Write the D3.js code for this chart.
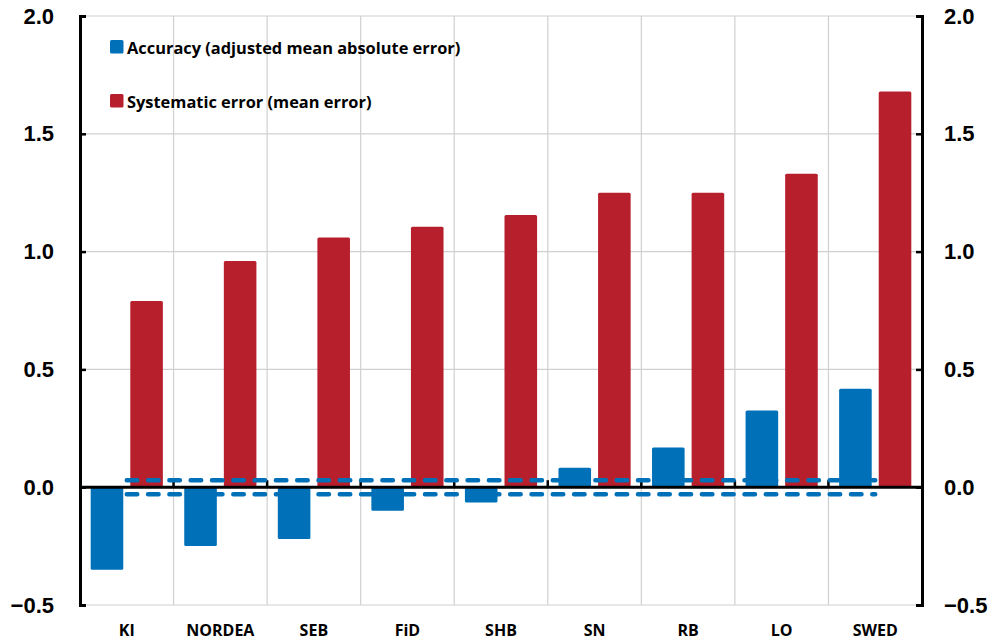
<!DOCTYPE html>
<html>
<head>
<meta charset="utf-8">
<script src="https://cdn.jsdelivr.net/npm/d3@7/dist/d3.min.js"></script>
<style>
  html, body { margin: 0; padding: 0; background: #fff; }
  svg { display: block; font-family: "Open Sans", "Noto Sans", sans-serif; }
</style>
</head>
<body>
<svg id="chart" width="995" height="641"></svg>
<script>
// Forecasters, ordered by systematic error
const categories = ["KI", "NORDEA", "SEB", "FiD", "SHB", "SN", "RB", "LO", "SWED"];
const accuracy   = [-0.35, -0.25, -0.22, -0.10, -0.065, 0.083, 0.168, 0.326, 0.418];
const systematic = [0.79, 0.96, 1.06, 1.105, 1.155, 1.25, 1.25, 1.33, 1.68];
const bandLimit  = [0.03, -0.03];   // dashed reference band around zero
const yTicks     = [-0.5, 0.0, 0.5, 1.0, 1.5, 2.0];
const seriesNames = ["Accuracy (adjusted mean absolute error)", "Systematic error (mean error)"];
const seriesColors = ["#0070b8", "#b81f2d"];

const svg = d3.select("#chart");
const plot = { left: 80, right: 922, top: 16, bottom: 605 };

const x = d3.scaleBand().domain(categories).range([plot.left, plot.right]).paddingInner(0).paddingOuter(0);
const y = d3.scaleLinear().domain([-0.5, 2.0]).range([plot.bottom, plot.top]);
const bw = x.bandwidth();
const inner = d3.scaleBand().domain([0, 1]).range([0, bw]).paddingInner(0.177).paddingOuter(0.27);

// Gridlines
const grid = svg.append("g");
grid.selectAll("line.h").data(yTicks.filter(d => d !== 0)).join("line")
  .attr("x1", plot.left).attr("x2", plot.right)
  .attr("y1", d => y(d)).attr("y2", d => y(d))
  .attr("stroke", "#d0d0d0").attr("stroke-width", 1.2);
grid.selectAll("line.v").data(categories.slice(1)).join("line")
  .attr("x1", d => x(d)).attr("x2", d => x(d))
  .attr("y1", plot.top).attr("y2", plot.bottom)
  .attr("stroke", "#d0d0d0").attr("stroke-width", 1.2);

// Bars
const bars = svg.append("g");
bars.selectAll("rect.acc").data(categories).join("rect")
  .attr("x", d => x(d) + inner(0))
  .attr("width", inner.bandwidth())
  .attr("y", (d, i) => y(Math.max(0, accuracy[i])))
  .attr("height", (d, i) => Math.abs(y(accuracy[i]) - y(0)))
  .attr("rx", 1.5)
  .attr("fill", seriesColors[0]);
bars.selectAll("rect.sys").data(categories).join("rect")
  .attr("x", d => x(d) + inner(1))
  .attr("width", inner.bandwidth())
  .attr("y", (d, i) => y(Math.max(0, systematic[i])))
  .attr("height", (d, i) => Math.abs(y(systematic[i]) - y(0)))
  .attr("rx", 1.5)
  .attr("fill", seriesColors[1]);

// Zero line with category ticks
svg.append("line")
  .attr("x1", plot.left).attr("x2", plot.right)
  .attr("y1", y(0)).attr("y2", y(0))
  .attr("stroke", "#000").attr("stroke-width", 3);
svg.append("g").selectAll("line").data(categories.slice(1)).join("line")
  .attr("x1", d => x(d)).attr("x2", d => x(d))
  .attr("y1", y(0)).attr("y2", y(0) - 7)
  .attr("stroke", "#000").attr("stroke-width", 2.5);

// Dashed band limits
const xMid = d => x(d) + bw / 2;
svg.append("g").selectAll("line").data(bandLimit).join("line")
  .attr("x1", xMid(categories[0])).attr("x2", xMid(categories[categories.length - 1]))
  .attr("y1", d => y(d)).attr("y2", d => y(d))
  .attr("stroke", seriesColors[0]).attr("stroke-width", 4.5)
  .attr("stroke-linecap", "round")
  .attr("stroke-dasharray", "10.5,10.8");

// Value axes on both sides
const fmt = d3.format(".1f");
const leftAxis = d3.axisLeft(y).tickValues(yTicks).tickFormat(fmt).tickSizeInner(-6).tickSizeOuter(-6).tickPadding(26);
const rightAxis = d3.axisRight(y).tickValues(yTicks).tickFormat(fmt).tickSizeInner(-6).tickSizeOuter(-6).tickPadding(22);
function styleAxis(g) {
  g.select(".domain").attr("stroke", "#000").attr("stroke-width", 3);
  g.selectAll(".tick line").attr("stroke", "#000").attr("stroke-width", 2.5);
  g.selectAll(".tick text").attr("fill", "#000")
    .style("font-size", "22px").style("font-weight", "700");
}
svg.append("g").attr("transform", `translate(${plot.left},0)`).call(leftAxis).call(styleAxis);
svg.append("g").attr("transform", `translate(${plot.right},0)`).call(rightAxis).call(styleAxis);

// Category labels
svg.append("g").selectAll("text").data(categories).join("text")
  .attr("x", d => xMid(d))
  .attr("y", 636)
  .attr("text-anchor", "middle")
  .style("font-size", "16px").style("font-weight", "700")
  .text(d => d);

// Legend
const legend = svg.append("g").selectAll("g").data(seriesNames).join("g")
  .attr("transform", (d, i) => `translate(110,${40 + i * 54})`);
legend.append("rect").attr("width", 13.5).attr("height", 13.5).attr("rx", 1.5)
  .attr("fill", (d, i) => seriesColors[i]);
legend.append("text").attr("x", 17).attr("y", 13.5)
  .style("font-size", "16.4px").style("font-weight", "700")
  .text(d => d);
</script>
</body>
</html>
